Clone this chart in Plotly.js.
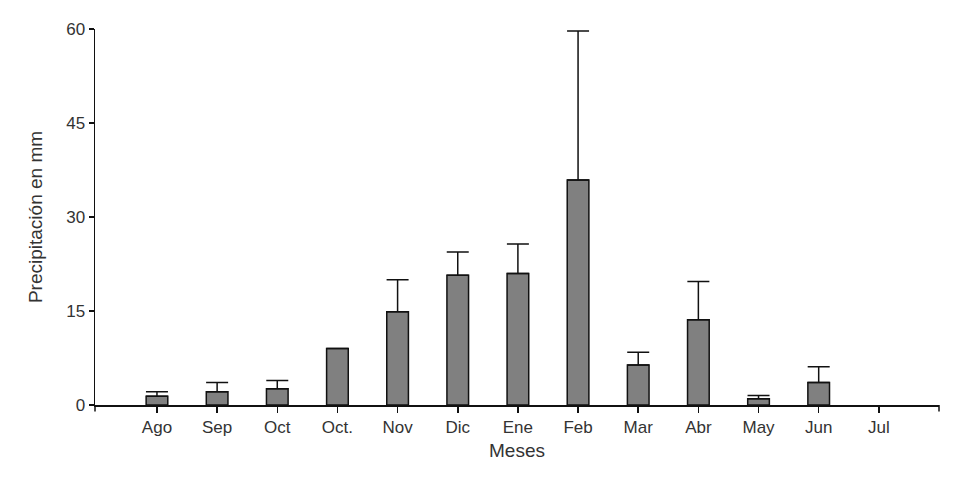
<!DOCTYPE html>
<html>
<head>
<meta charset="utf-8">
<script src="https://cdn.plot.ly/plotly-3.0.1.min.js"></script>
<style>html,body{margin:0;padding:0;background:#fff;}#chart{width:958px;height:486px;}</style>
</head>
<body>
<div id="chart"></div>
<script>
const months = ["Ago", "Sep", "Oct", "Oct.", "Nov", "Dic", "Ene", "Feb", "Mar", "Abr", "May", "Jun", "Jul"];
const precip = [1.4, 2.1, 2.6, 9.0, 14.9, 20.7, 21.0, 35.9, 6.4, 13.6, 1.0, 3.6, null];
const errUp = [0.7, 1.5, 1.3, null, 5.1, 3.7, 4.7, 23.8, 2.0, 6.1, 0.5, 2.5, null];
const yTicks = [0, 15, 30, 45, 60];

const trace = {
  type: "bar",
  x: months.map((m, i) => i),
  y: precip,
  width: 0.36,
  marker: {color: "#808080", line: {color: "#111", width: 1.5}},
  error_y: {type: "data", symmetric: false, array: errUp, arrayminus: errUp.map(v => v === null ? null : 0),
            color: "#111", thickness: 1.5, width: 11, visible: true},
  hoverinfo: "skip"
};

const fam = "Liberation Sans, Arial, sans-serif";

const layout = {
  width: 958, height: 486,
  margin: {l: 95, r: 19, t: 29, b: 81},
  paper_bgcolor: "#fff", plot_bgcolor: "#fff",
  showlegend: false,
  font: {family: fam, size: 17, color: "#333"},
  xaxis: {
    range: [-1.03, 13.0],
    tickmode: "array", tickvals: months.map((m, i) => i), ticktext: months,
    ticks: "outside", ticklen: 6, tickwidth: 1.5, tickcolor: "#111",
    showline: true, linecolor: "#111", linewidth: 1.5,
    showgrid: false, zeroline: false,
    tickfont: {family: fam, size: 17, color: "#333"},
    title: {text: "Meses", font: {family: fam, size: 19, color: "#333"}, standoff: 8}
  },
  yaxis: {
    range: [0, 60],
    tickmode: "array", tickvals: yTicks,
    ticks: "outside", ticklen: 5, tickwidth: 1.5, tickcolor: "#111",
    showline: true, linecolor: "#111", linewidth: 1.5,
    showgrid: false, zeroline: false,
    tickfont: {family: fam, size: 17, color: "#333"},
    title: {text: "Precipitación en mm", font: {family: fam, size: 19, color: "#333"}, standoff: 18}
  },
  shapes: [
    {type: "line", xref: "paper", yref: "paper", x0: 0, x1: 0, y0: 0, y1: -0.017, line: {color: "#111", width: 1.5}},
    {type: "line", xref: "paper", yref: "paper", x0: 1, x1: 1, y0: 0, y1: -0.017, line: {color: "#111", width: 1.5}}
  ]
};

Plotly.newPlot("chart", [trace], layout, {displayModeBar: false, staticPlot: true});
</script>
</body>
</html>
